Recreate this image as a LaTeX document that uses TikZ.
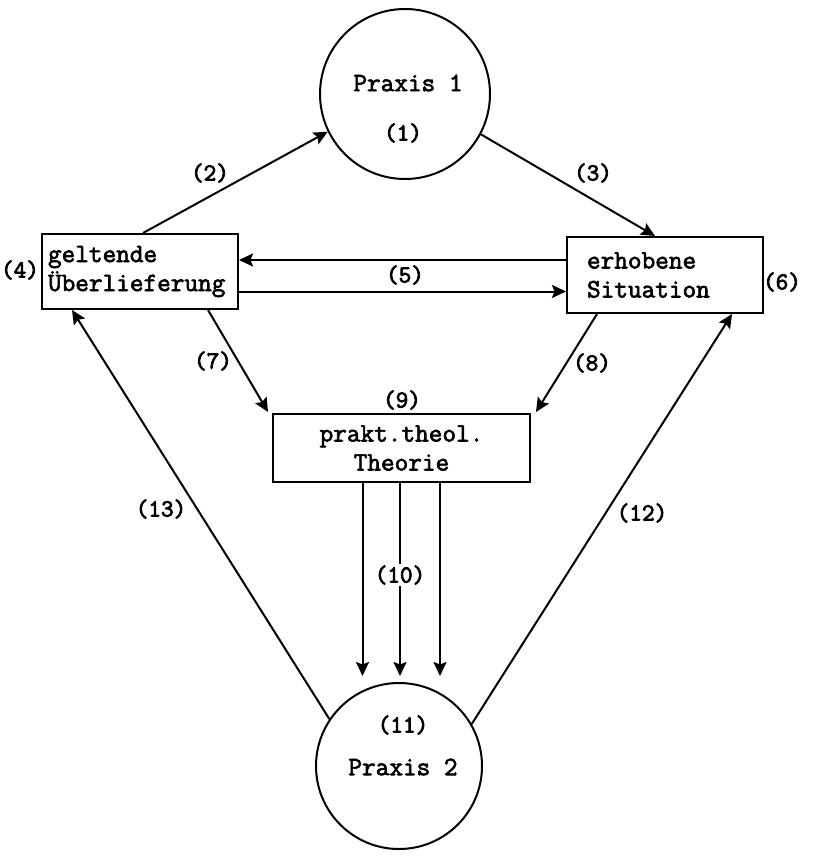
\documentclass[tikz,border=0pt]{standalone}
\usepackage{fontspec}
\setmainfont{Latin Modern Mono}[FakeBold=2.4]
\newfontfamily\labfont{Latin Modern Mono}[FakeBold=3.2]
\usetikzlibrary{arrows.meta,calc}
\begin{document}
\begin{tikzpicture}[x=1pt,y=-1pt,
  every node/.style={font=\fontsize{26.5}{29}\selectfont},
  lw/.style={line width=2pt},
  arr/.style={lw,-{Stealth[length=14pt,width=13pt,inset=2.5pt]}},
  boxL/.style={draw,lw,rectangle,minimum width=196pt,minimum height=75pt,text width=184pt,align=left,inner sep=0pt},
  circ/.style={draw,lw,circle,inner sep=0pt},
  lab/.style={inner sep=1pt,font=\labfont\fontsize{24.5}{28}\selectfont}
]
\useasboundingbox (0,0) rectangle (812,866);
\fill[white] (0,0) rectangle (812,866);

% nodes
\node[circ,minimum size=170pt] (p1) at (405,94) {};
\node (p1t) at (408,83) {Praxis 1};
\node[lab] (p1n) at (403,133) {(1)};

\node[boxL] (g) at (140,271.5) {geltende\\Überlieferung};
\node[boxL,minimum height=76pt,text width=156pt] (e) at (665,275) {erhobene\\Situation};
\node[draw,lw,rectangle,minimum width=257pt,minimum height=68pt,align=center,inner sep=0pt] (t) at (401.5,448) {prakt.theol.\\Theorie};

\node[circ,minimum size=166pt] (p2) at (399,766) {};
\node[lab] (p2n) at (403,725) {(11)};
\node (p2t) at (403,767) {Praxis 2};

% connectors
\draw[arr] ($(g.north)+(3,0)$) -- (p1.206);
\draw[arr] (p1.332) -- ($(e.north)+(-10,0)$);
\draw[arr] ($(e.west)+(0,-15)$) coordinate (u) -- (u -| g.east);
\draw[arr] ($(g.east)+(0,20)$) coordinate (l) -- (l -| e.west);
\draw[arr] ($(g.south)+(68,0)$) -- ($(t.north west)+(-4,-1)$);
\draw[arr] ($(e.south)+(-68,0)$) -- ($(t.north east)+(5,-1)$);
\draw[arr] ($(t.south)+(-39,0)$) coordinate (a1) -- ($(a1 |- p2.north)+(0,-6)$);
\draw[arr] ($(t.south)+(-1.5,0)$) coordinate (a2) -- ($(a2 |- p2.north)+(0,-6)$);
\draw[arr] ($(t.south)+(38.5,0)$) coordinate (a3) -- ($(a3 |- p2.north)+(0,-6)$);
\draw[arr] (p2.30) -- ($(e.south)+(67,0)$);
\draw[arr] (p2.146) -- ($(g.south)+(-68,0)$);

% labels
\node[lab] (n2) at (210,173) {(2)};
\node[lab] (n3) at (593,173) {(3)};
\node[lab] (n4) at (20,270) {(4)};
\node[lab] (n5) at (405,275) {(5)};
\node[lab] (n6) at (782,282) {(6)};
\node[lab] (n7) at (213,361) {(7)};
\node[lab] (n8) at (592,363) {(8)};
\node[lab] (n9) at (402,400) {(9)};
\node[lab,fill=white] (n10) at (400,575) {(10)};
\node[lab] (n12) at (642,513) {(12)};
\node[lab] (n13) at (161,509) {(13)};
\end{tikzpicture}
\end{document}
